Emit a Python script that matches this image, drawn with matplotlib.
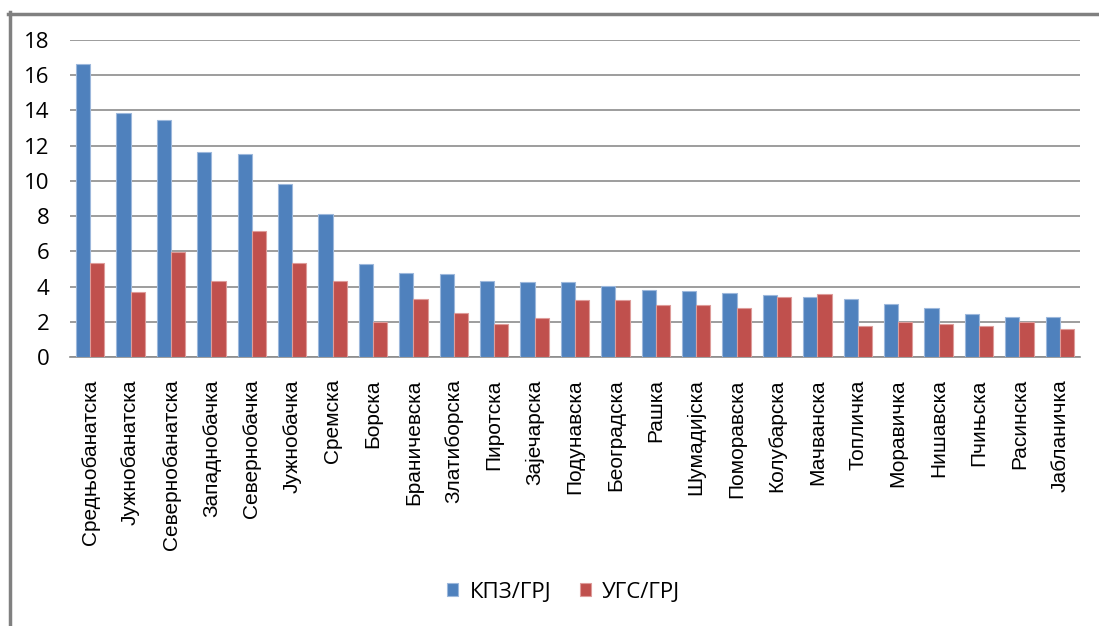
import matplotlib.pyplot as plt
import numpy as np
from matplotlib.lines import Line2D

districts = [
    "Средњобанатска", "Јужнобанатска", "Севернобанатска", "Западнобачка",
    "Севернобачка", "Јужнобачка", "Сремска", "Борска", "Браничевска",
    "Златиборска", "Пиротска", "Зајечарска", "Подунавска", "Београдска",
    "Рашка", "Шумадијска", "Поморавска", "Колубарска", "Мачванска",
    "Топличка", "Моравичка", "Нишавска", "Пчињска", "Расинска", "Јабланичка",
]
kpz_grj = [16.65, 13.87, 13.45, 11.62, 11.53, 9.80, 8.12, 5.28, 4.77,
           4.69, 4.33, 4.26, 4.26, 4.01, 3.82, 3.75, 3.61, 3.54, 3.39,
           3.29, 3.01, 2.80, 2.44, 2.29, 2.29]
ugs_grj = [5.34, 3.67, 5.96, 4.33, 7.17, 5.34, 4.33, 1.99, 3.31,
           2.52, 1.85, 2.21, 3.24, 3.24, 2.95, 2.95, 2.80, 3.39, 3.59,
           1.78, 1.99, 1.85, 1.78, 1.99, 1.57]
series_names = ["КПЗ/ГРЈ", "УГС/ГРЈ"]
y_ticks = [0, 2, 4, 6, 8, 10, 12, 14, 16, 18]

fig = plt.figure(figsize=(10.99, 6.26), dpi=100)
ax = fig.add_axes([0.0637, 0.4297, 0.919, 0.5064])

x = np.arange(len(districts))
w = 0.35
ax.bar(x - w / 2, kpz_grj, w, color="#4F81BD", edgecolor="#9DB8DC",
       linewidth=0.8, label=series_names[0], zorder=3)
ax.bar(x + w / 2, ugs_grj, w, color="#C0504D", edgecolor="#DE9C9A",
       linewidth=0.8, label=series_names[1], zorder=3)

ax.set_xlim(-0.5, len(districts) - 0.5)
ax.set_ylim(0, 18)
ax.set_yticks(y_ticks)
ax.yaxis.grid(True, color="#8C8C8C", linewidth=1.2)
ax.set_axisbelow(True)
for side in ["left", "right", "top"]:
    ax.spines[side].set_visible(False)
ax.spines["bottom"].set_color("#8C8C8C")
ax.spines["bottom"].set_linewidth(1.2)
ax.tick_params(axis="y", length=0, pad=15, labelsize=16)
ax.tick_params(axis="x", length=0, pad=16)
for lab in ax.get_yticklabels():
    lab.set_family("Open Sans")
ax.set_xticks(x)
ax.set_xticklabels(districts, rotation=90, fontsize=15,
                   family="Liberation Sans", va="top")

fig.legend(loc="center", bbox_to_anchor=(0.513, 0.054), ncol=2, frameon=False,
           prop={"family": "Open Sans", "size": 16}, handlelength=0.5,
           handleheight=0.5, columnspacing=1.3, handletextpad=0.5)

# outer frame (top and left edges only)
fig.add_artist(Line2D([8 / 1099, 1], [1 - 13.5 / 626] * 2, color="#808080",
                      linewidth=2.5, transform=fig.transFigure))
fig.add_artist(Line2D([9.5 / 1099] * 2, [0, 1 - 12 / 626], color="#808080",
                      linewidth=2.5, transform=fig.transFigure))

fig.savefig("out.png", dpi=100)
